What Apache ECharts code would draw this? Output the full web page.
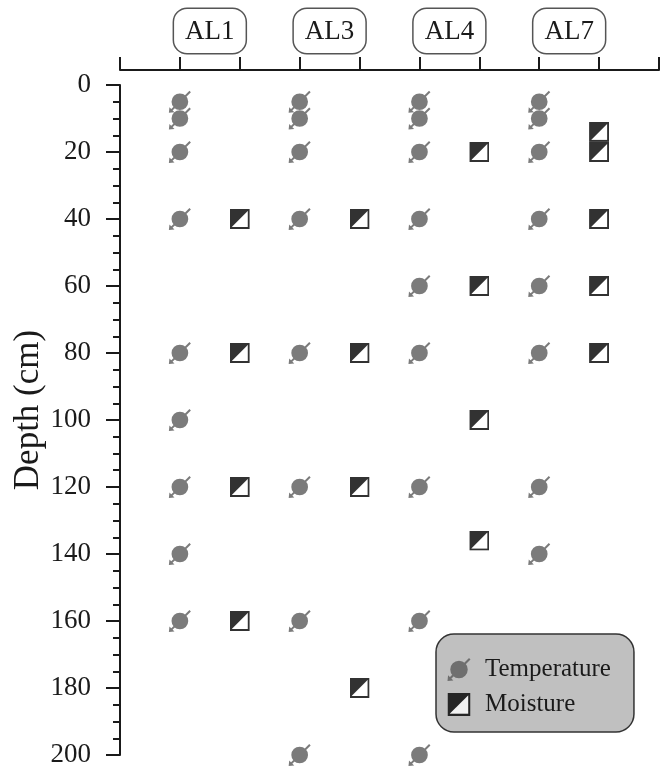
<!DOCTYPE html>
<html>
<head>
<meta charset="utf-8">
<script src="https://cdn.jsdelivr.net/npm/echarts@6/dist/echarts.min.js"></script>
<style>
  html, body { margin: 0; padding: 0; background: #fff; }
  #chart { width: 661px; height: 767px; }
</style>
</head>
<body>
<div id="chart"></div>
<script>
// sensor depths (cm), one list per station
const stations = ['AL1', 'AL3', 'AL4', 'AL7'];
const tempDepths = [
  [5, 10, 20, 40, 80, 100, 120, 140, 160],
  [5, 10, 20, 40, 80, 120, 160, 200],
  [5, 10, 20, 40, 60, 80, 120, 160, 200],
  [5, 10, 20, 40, 60, 80, 120, 140]
];
const moistDepths = [
  [40, 80, 120, 160],
  [40, 80, 120, 180],
  [20, 60, 100, 136],
  [14, 20, 40, 60, 80]
];
const depthMin = 0;
const depthMax = 200;
const depthStep = 20;

const serif = '"Liberation Serif", "DejaVu Serif", serif';
const ink = '#1a1a1a';

// thermometer-ish marker: disc with a diagonal stem and a small arrow tip
const tempSymbol = 'path://M2.4,10 A7.6,7.6 0 1 1 17.6,10 A7.6,7.6 0 1 1 2.4,10 Z ' +
  'M18.7,0 L20,1.3 L2.6,18.7 L1.3,17.4 Z M0,20 L0.5,14.9 L5.1,19.5 Z';

const moistSvg = '<svg xmlns="http://www.w3.org/2000/svg" width="40" height="40" viewBox="0 0 20 20">' +
  '<rect x="1" y="1" width="18" height="18" fill="#fff" stroke="#000" stroke-width="2"/>' +
  '<path d="M1 1H19L1 19Z" fill="#000"/></svg>';
const moistSymbol = 'image://data:image/svg+xml;charset=utf-8,' + encodeURIComponent(moistSvg);

// x slot of each station: temperature on the left tick, moisture on the right one
const tempData = [];
const moistData = [];
stations.forEach((s, i) => {
  tempDepths[i].forEach(d => tempData.push([2 * i + 1, d]));
  moistDepths[i].forEach(d => moistData.push([2 * i + 2, d]));
});
const tickSlots = [];
for (let k = 0; k <= 2 * stations.length + 1; k++) tickSlots.push(k);
const labelSlots = stations.map((s, i) => 2 * i + 1.5);

const chart = echarts.init(document.getElementById('chart'));

chart.setOption({
  animation: false,
  backgroundColor: '#fff',
  grid: { left: 120, right: 2, top: 85, bottom: 12, outerBoundsMode: 'none', containLabel: false },
  xAxis: {
    type: 'value',
    position: 'top',
    offset: 15,
    min: 0,
    max: 2 * stations.length + 1,
    splitLine: { show: false },
    axisLine: { onZero: false, lineStyle: { color: ink, width: 2 } },
    axisTick: {
      customValues: tickSlots,
      length: 13,
      lineStyle: { color: ink, width: 2 }
    },
    axisLabel: {
      customValues: labelSlots,
      formatter: v => stations[Math.round((v - 1.5) / 2)],
      margin: 17,
      fontFamily: serif,
      fontSize: 27,
      color: ink,
      backgroundColor: '#fff',
      borderColor: '#555',
      borderWidth: 1.5,
      borderRadius: 13,
      padding: [9, 11, 8, 11]
    }
  },
  yAxis: {
    type: 'value',
    inverse: true,
    min: depthMin,
    max: depthMax,
    interval: depthStep,
    name: 'Depth (cm)',
    nameLocation: 'middle',
    nameGap: 74,
    nameMoveOverlap: false,
    nameTextStyle: { fontFamily: serif, fontSize: 35, color: ink, padding: [0, 0, 0, 20] },
    splitLine: { show: false },
    axisLine: { show: true, onZero: false, lineStyle: { color: ink, width: 2 } },
    axisTick: { length: 14, lineStyle: { color: ink, width: 2 } },
    minorTick: { show: true, splitNumber: 4, length: 7, lineStyle: { color: ink, width: 2 } },
    axisLabel: { margin: 29, fontFamily: serif, fontSize: 27, color: ink }
  },
  legend: {
    orient: 'vertical',
    left: 436,
    top: 634,
    padding: [23, 23, 15, 11],
    itemGap: 10,
    itemWidth: 24,
    itemHeight: 23,
    backgroundColor: '#c0c0c0',
    borderColor: '#333',
    borderWidth: 1.5,
    borderRadius: 18,
    textStyle: { fontFamily: serif, fontSize: 25, color: ink, lineHeight: 25, padding: [0, 0, 0, 9] },
    data: [
      { name: 'Temperature', icon: tempSymbol, itemStyle: { color: '#5a5a5a' } },
      { name: 'Moisture', icon: moistSymbol }
    ]
  },
  series: [
    {
      name: 'Temperature',
      type: 'scatter',
      clip: false,
      symbol: tempSymbol,
      symbolSize: 22,
      itemStyle: { color: '#5a5a5a' },
      data: tempData
    },
    {
      name: 'Moisture',
      type: 'scatter',
      clip: false,
      symbol: moistSymbol,
      symbolSize: 20,
      data: moistData
    }
  ]
});
</script>
</body>
</html>
